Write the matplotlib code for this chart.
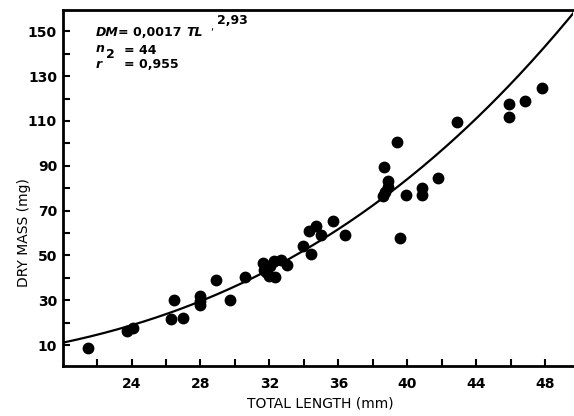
import numpy as np
import matplotlib
matplotlib.use("Agg")
import matplotlib.pyplot as plt

# total length (mm) and dry mass (mg)
total_length = [21.5, 23.75, 24.1, 26.3, 26.45, 27.0, 27.95, 27.95, 27.95,
                28.9, 29.7, 30.6,
                31.6, 31.7, 31.95, 32.25, 32.35, 32.65, 33.0, 32.05, 31.8,
                33.95, 34.4, 34.3, 34.7, 35.0, 35.7, 36.4,
                38.65, 38.85, 38.85, 38.6, 38.7, 39.4, 39.6, 39.9, 40.85, 40.85,
                41.8, 42.9, 45.9, 45.9, 46.8, 47.8]
dry_mass = [8.7, 16.3, 17.8, 21.7, 30.2, 22.0, 31.8, 29.8, 27.9,
            38.8, 30.2, 40.2,
            46.7, 43.6, 40.6, 47.4, 40.4, 48.1, 45.9, 45.1, 42.5,
            54.4, 50.7, 60.8, 63.1, 59.3, 65.3, 59.3,
            89.3, 83.3, 80.3, 76.5, 78.5, 100.5, 57.9, 76.8, 79.9, 76.8,
            84.5, 109.3, 117.7, 111.7, 118.7, 124.8]

# fitted power curve DM = a * TL^b
coef_a = 0.0017
coef_b = 2.93

x_major = [24, 28, 32, 36, 40, 44, 48]
x_minor = [22, 26, 30, 34, 38, 42, 46]
y_major = [10, 30, 50, 70, 90, 110, 130, 150]
y_minor = [20, 40, 60, 80, 100, 120, 140]

fig = plt.figure(figsize=(5.74, 4.16), dpi=100)
ax = fig.add_axes([0.109, 0.12, 0.889, 0.856])

tl = np.linspace(20, 50, 300)
ax.plot(tl, coef_a * tl ** coef_b, color="black", lw=1.6)
ax.plot(total_length, dry_mass, "o", color="black", ms=7.5, mec="black")

ax.set_xlim(20, 49.6)
ax.set_ylim(0.6, 159.5)

ax.set_xticks(x_major)
ax.set_xticks(x_minor, minor=True)
ax.set_yticks(y_major)
ax.set_yticks(y_minor, minor=True)

for s in ["left", "bottom", "top", "right"]:
    ax.spines[s].set_linewidth(2.0)
ax.spines["right"].set_visible(False)

ax.tick_params(which="both", direction="in", width=1.5, length=5,
               top=False, right=False)
ax.tick_params(axis="x", pad=8)
ax.tick_params(axis="y", pad=4)
for lab in ax.get_xticklabels() + ax.get_yticklabels():
    lab.set_fontsize(10)
    lab.set_fontweight("bold")

ax.set_xlabel("TOTAL LENGTH (mm)", fontsize=10)
ax.set_ylabel("DRY MASS (mg)", fontsize=10)
ax.xaxis.set_label_coords(0.506, -0.085)
ax.yaxis.set_label_coords(-0.062, 0.374)

# equation block in the upper left
W, H = 574.0, 416.0
def ftext(px, py, s, size=9, **kw):
    fig.text(px / W, 1 - py / H, s, va="center", ha="left", fontsize=size, **kw)

ftext(96, 32, "DM", style="italic", fontweight="bold")
ftext(118, 32, "= 0,0017", fontweight="bold")
ftext(186, 32, "TL", style="italic", fontweight="bold")
ftext(210, 27, ",", size=7)
ftext(217, 21, "2,93", fontweight="bold")
ftext(96, 49, "n", style="italic", fontweight="bold")
ftext(124, 50, "= 44", fontweight="bold")
ftext(106, 55, "2", fontweight="bold")
ftext(96, 65, "r", style="italic", fontweight="bold")
ftext(124, 65, "= 0,955", fontweight="bold")

fig.savefig("out.png", dpi=100)
